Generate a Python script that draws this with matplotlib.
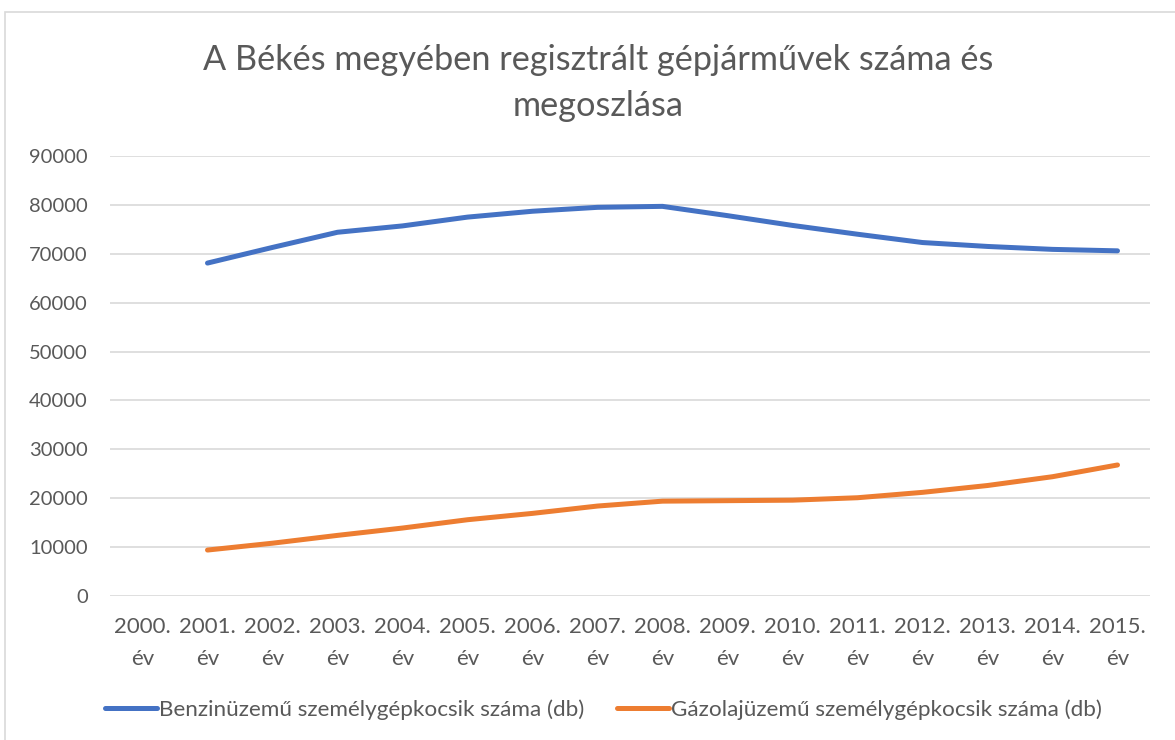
import matplotlib.pyplot as plt
from matplotlib.patches import Rectangle

years = [f"{y}.\név" for y in range(2000, 2016)]
benzin = [None, 68100, 71300, 74400, 75700, 77500, 78700, 79500, 79700,
          77800, 75800, 74000, 72300, 71500, 70900, 70600]
gazolaj = [None, 9400, 10800, 12400, 13900, 15600, 16900, 18400, 19400,
           19500, 19600, 20100, 21200, 22600, 24400, 26800]
labels = ["Benzinüzemű személygépkocsik száma (db)",
          "Gázolajüzemű személygépkocsik száma (db)"]

plt.rcParams['font.family'] = ['Lato', 'DejaVu Sans']
text_col = "#595959"

fig = plt.figure(figsize=(11.75, 7.4), dpi=100)
ax = fig.add_axes([110 / 1175, 1 - 596 / 740, 1040 / 1175, 440 / 740])

x = list(range(len(years)))
xs_b = [i for i, v in zip(x, benzin) if v is not None]
ys_b = [v for v in benzin if v is not None]
xs_g = [i for i, v in zip(x, gazolaj) if v is not None]
ys_g = [v for v in gazolaj if v is not None]
ax.plot(xs_b, ys_b, color="#4472C4", lw=3.6, solid_capstyle="round",
        solid_joinstyle="round", label=labels[0])
ax.plot(xs_g, ys_g, color="#ED7D31", lw=3.6, solid_capstyle="round",
        solid_joinstyle="round", label=labels[1])

ax.set_xlim(-0.5, len(years) - 0.5)
ax.set_ylim(0, 90000)
ax.set_yticks(range(0, 90001, 10000))
ax.set_xticks(x)
ax.set_xticklabels(years, linespacing=1.75)
ax.grid(axis="y", color="#d9d9d9", lw=1.2)
ax.set_axisbelow(True)
for s in ax.spines.values():
    s.set_visible(False)
ax.tick_params(axis="x", length=0, labelsize=16, colors=text_col, pad=15)
ax.tick_params(axis="y", length=0, labelsize=14.5, colors=text_col, pad=16)

fig.text(0.5 + 11 / 1175, 1 - 83 / 740,
         "A Békés megyében regisztrált gépjárművek száma és\nmegoszlása",
         ha="center", va="center", fontsize=24.7, color=text_col, linespacing=1.52)

fig.legend(loc="center", bbox_to_anchor=(0.5 + 16 / 1175, 1 - 710 / 740), ncol=2,
           frameon=False, fontsize=16.2, handlelength=2.3, handletextpad=0.1,
           columnspacing=1.45, labelcolor=text_col)

# chart frame
fig.patches.append(Rectangle((5 / 1175, -0.1), 1.2, 1 - 12 / 740 + 0.1,
                             transform=fig.transFigure, fill=False,
                             edgecolor="#d9d9d9", lw=1.2))

fig.savefig("out.png", dpi=100)
